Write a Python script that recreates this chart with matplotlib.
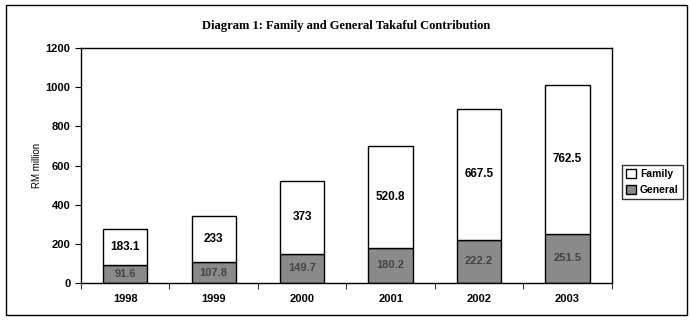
import numpy as np
import matplotlib.pyplot as plt
from matplotlib.patches import Rectangle

years = ["1998", "1999", "2000", "2001", "2002", "2003"]
general = [91.6, 107.8, 149.7, 180.2, 222.2, 251.5]
family = [183.1, 233, 373, 520.8, 667.5, 762.5]

plt.rcParams['font.family'] = ['Liberation Sans', 'DejaVu Sans']

fig = plt.figure(figsize=(6.92, 3.21), dpi=100)
ax = fig.add_axes([0.117, 0.118, 0.767, 0.732])

x = np.arange(len(years))
b1 = ax.bar(x, general, width=0.5, color="#8a8a8a", edgecolor="black", linewidth=1, label="General")
b2 = ax.bar(x, family, width=0.5, bottom=general, color="white", edgecolor="black", linewidth=1, label="Family")

for i in range(len(years)):
    ax.text(x[i], general[i] / 2, f"{general[i]:g}", ha="center", va="center",
            fontsize=8, fontweight="bold", color="#444444")
    ax.text(x[i], general[i] + family[i] / 2, f"{family[i]:g}", ha="center", va="center",
            fontsize=8.5, fontweight="bold")

ax.set_xlim(-0.5, len(years) - 0.5)
ax.set_ylim(0, 1200)
ax.set_yticks(range(0, 1201, 200))
ax.set_xticks(x)
ax.set_xticklabels(years)
ax.set_xticks(np.arange(-0.5, len(years), 1), minor=True)
ax.tick_params(axis="x", which="major", length=0, pad=8)
ax.tick_params(axis="x", which="minor", length=4, direction="out")
ax.tick_params(axis="y", length=4, direction="out")
for lab in ax.get_xticklabels() + ax.get_yticklabels():
    lab.set_fontsize(8)
    lab.set_fontweight("bold")
for s in ax.spines.values():
    s.set_linewidth(1)
ax.set_ylabel("RM million", fontsize=7, labelpad=3)

ax.set_title("Diagram 1: Family and General Takaful Contribution",
             family="Liberation Serif", fontweight="bold", fontsize=9, pad=14)

leg = ax.legend(handles=[b2, b1], labels=["Family", "General"], loc="center left",
                bbox_to_anchor=(1.01, 0.43), fontsize=7.5, frameon=True, fancybox=False,
                edgecolor="black", handlelength=0.9, handleheight=0.9, handletextpad=0.4,
                borderpad=0.4, labelspacing=0.6)
for t in leg.get_texts():
    t.set_fontweight("bold")

fig.patches.append(Rectangle((0.008, 0.02), 0.985, 0.965, transform=fig.transFigure,
                             fill=False, edgecolor="black", linewidth=1))

fig.savefig("out.png", dpi=100)
